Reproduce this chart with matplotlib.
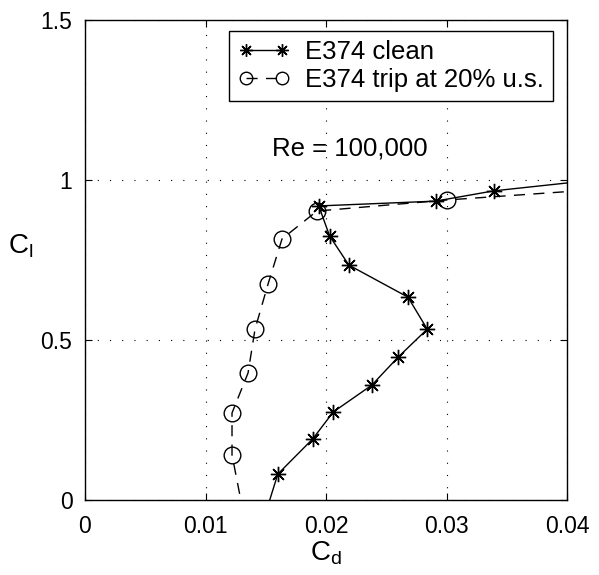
import matplotlib.pyplot as plt

plt.rcParams['font.family'] = ['Liberation Sans', 'DejaVu Sans']
plt.rcParams['mathtext.fontset'] = 'custom'
plt.rcParams['mathtext.rm'] = 'Liberation Sans'
plt.rcParams['mathtext.it'] = 'Liberation Sans'

# E374 clean, Re = 100,000 (Cd, Cl)
clean_cd = [0.0145, 0.0160, 0.0189, 0.0206, 0.0238, 0.0260, 0.0284, 0.0268,
            0.0219, 0.0203, 0.0194, 0.0291, 0.0339, 0.0450]
clean_cl = [-0.10, 0.081, 0.191, 0.275, 0.359, 0.447, 0.534, 0.634,
            0.734, 0.825, 0.919, 0.934, 0.966, 1.011]

# E374 trip at 20% u.s.
trip_cd = [0.01345, 0.0122, 0.0122, 0.01353, 0.01411, 0.01519, 0.01635,
           0.01925, 0.0300, 0.0500]
trip_cl = [-0.10, 0.141, 0.272, 0.397, 0.534, 0.675, 0.816, 0.903,
           0.9375, 0.99]

fig = plt.figure(figsize=(5.99, 5.75), dpi=100)
ax = fig.add_axes([0.1419, 0.1304, 0.8047, 0.8348])

ax.plot(clean_cd, clean_cl, color='black', lw=1.0, marker=(8, 2, 0),
        markersize=11, markeredgewidth=1.0, label='E374 clean')
ax.plot(trip_cd, trip_cl, color='black', lw=1.0, dashes=(8, 6),
        marker='o', markersize=12, markerfacecolor='none',
        markeredgewidth=1.0, label='E374 trip at 20% u.s.')

ax.set_xlim(0, 0.04)
ax.set_ylim(0, 1.5)
ax.set_xticks([0, 0.01, 0.02, 0.03, 0.04])
ax.set_xticklabels(['0', '0.01', '0.02', '0.03', '0.04'])
ax.set_yticks([0, 0.5, 1, 1.5])
ax.set_yticklabels(['0', '0.5', '1', '1.5'])
ax.tick_params(direction='in', top=True, right=True, labelsize=16.5,
               length=5, width=0.8)
ax.tick_params(axis='x', pad=11)
ax.tick_params(axis='y', pad=9)
ax.grid(True, linestyle=(0, (1, 10)), color='black', lw=0.8)
for s in ax.spines.values():
    s.set_linewidth(1.0)

ax.set_xlabel(r'$\mathrm{C_d}$', fontsize=20, labelpad=1)
ax.set_ylabel(r'$\mathrm{C_l}$', fontsize=20, rotation=0, labelpad=14)

ax.text(0.02195, 1.1, 'Re = 100,000', fontsize=18.5, ha='center', va='center')

leg = ax.legend(loc='upper right', bbox_to_anchor=(0.971, 0.977),
                borderaxespad=0, fontsize=18.5, numpoints=2, handlelength=2.0,
                handletextpad=0.6, fancybox=False, framealpha=1,
                edgecolor='black', borderpad=0.35, labelspacing=0.15)
leg.get_frame().set_linewidth(1.0)
for h in leg.legend_handles:
    h.set_markersize(9)

fig.savefig('out.png', dpi=100)
